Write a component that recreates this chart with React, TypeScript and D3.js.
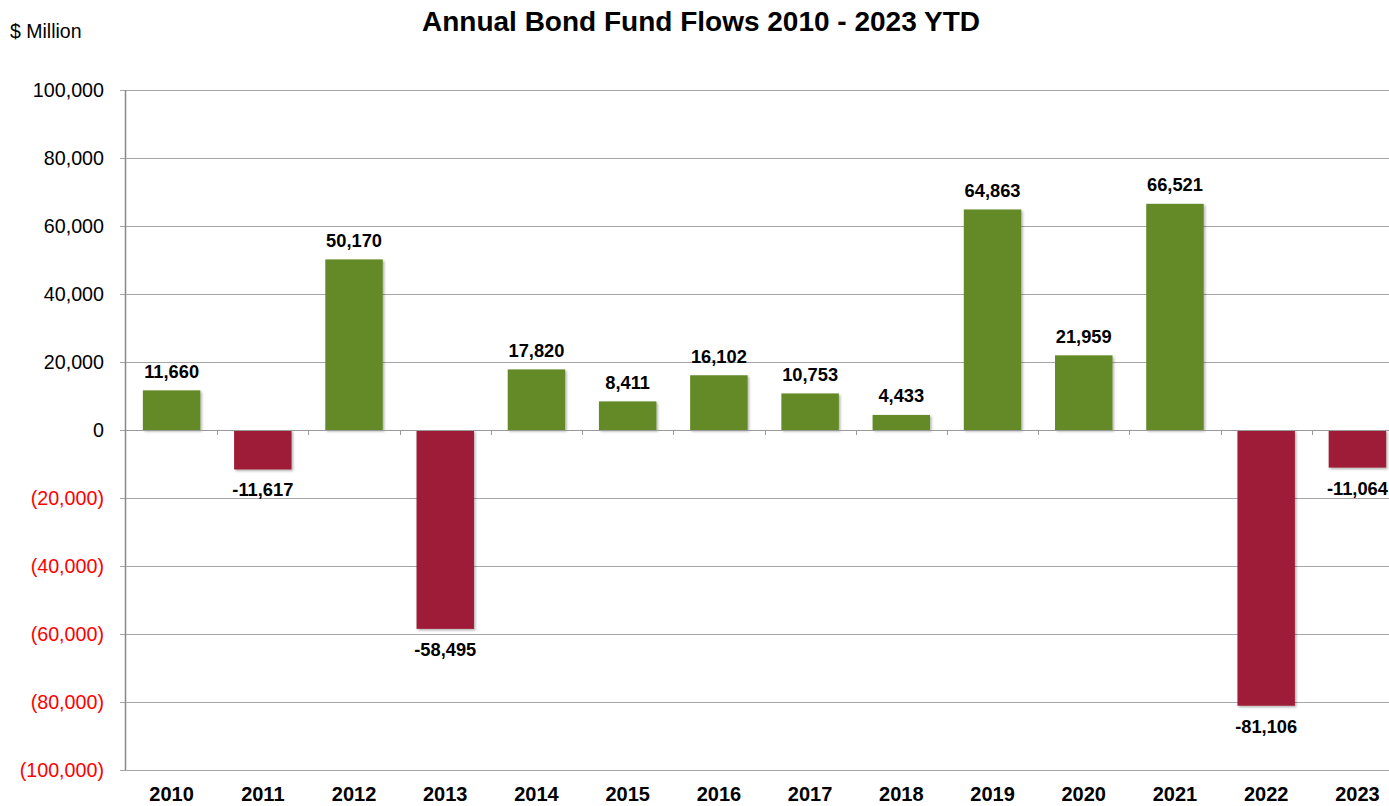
import React from "react";
import * as d3 from "d3";

const categories = ["2010","2011","2012","2013","2014","2015","2016","2017","2018","2019","2020","2021","2022","2023"];
const flows = [11660,-11617,50170,-58495,17820,8411,16102,10753,4433,64863,21959,66521,-81106,-11064];
const yTicks = [100000,80000,60000,40000,20000,0,-20000,-40000,-60000,-80000,-100000];

const W = 1389, H = 806;
const left = 126, right = 1403, top = 90, bottom = 770;
const GREEN = "#648a26";
const RED = "#9f1f37";
const FONT = "Liberation Sans, Arial, sans-serif";

export default function App() {
  const x = d3.scaleBand<string>().domain(categories).range([left, right]).paddingInner(0.37).paddingOuter(0.185);
  const y = d3.scaleLinear().domain([-100000, 100000]).range([bottom, top]);
  const fmtNum = (v: number) => d3.format(",")(v).replace("\u2212", "-");
  const tickLabel = (v: number) => v < 0 ? `(${fmtNum(-v)})` : fmtNum(v);
  const step = x.step();
  return (
    <svg width={W} height={H} style={{ position: "absolute", left: 0, top: 0, background: "#fff" }} fontFamily={FONT}>
      <defs>
        <filter id="sh" x="-20%" y="-20%" width="140%" height="140%">
          <feDropShadow dx="1.5" dy="1.5" stdDeviation="1.2" floodColor="#000" floodOpacity="0.3" />
        </filter>
      </defs>
      <text x={701} y={31} textAnchor="middle" fontSize={28} fontWeight="bold" fill="#000">Annual Bond Fund Flows 2010 - 2023 YTD</text>
      <text x={10} y={38} fontSize={19.5} fill="#000">$ Million</text>
      {yTicks.map(t => (
        <g key={t}>
          <line x1={left - 6} x2={W} y1={Math.round(y(t)) + 0.5} y2={Math.round(y(t)) + 0.5} stroke="#a6a6a6" strokeWidth={1} />
          <text x={104} y={y(t) + 7} textAnchor="end" fontSize={19.7} fill={t < 0 ? "#ff0000" : "#000"}>{tickLabel(t)}</text>
        </g>
      ))}
      <line x1={left - 0.5} x2={left - 0.5} y1={top} y2={bottom} stroke="#888" strokeWidth={1.5} />
      {categories.slice(1).map((c, i) => {
        const xv = Math.round(left + step * (i + 1)) + 0.5;
        return <line key={c} x1={xv} x2={xv} y1={y(0)} y2={y(0) + 5} stroke="#999" strokeWidth={1} />;
      })}
      {categories.map((c, i) => {
        const v = flows[i];
        const x0 = x(c)!;
        const yTop = v >= 0 ? y(v) : y(0);
        const h = Math.abs(y(v) - y(0));
        return (
          <g key={c}>
            <rect x={x0} y={yTop} width={x.bandwidth()} height={h} fill={v >= 0 ? GREEN : RED} filter="url(#sh)" />
            <text x={x0 + x.bandwidth() / 2} y={v >= 0 ? y(v) - 12.5 : y(v) + 27} textAnchor="middle" fontSize={18.3} fontWeight="bold" fill="#000">{fmtNum(v)}</text>
            <text x={x0 + x.bandwidth() / 2} y={801} textAnchor="middle" fontSize={20} fontWeight="bold" fill="#000">{c}</text>
          </g>
        );
      })}
      <line x1={left} x2={W} y1={Math.round(y(0)) + 0.5} y2={Math.round(y(0)) + 0.5} stroke="#999" strokeWidth={1} />
    </svg>
  );
}
